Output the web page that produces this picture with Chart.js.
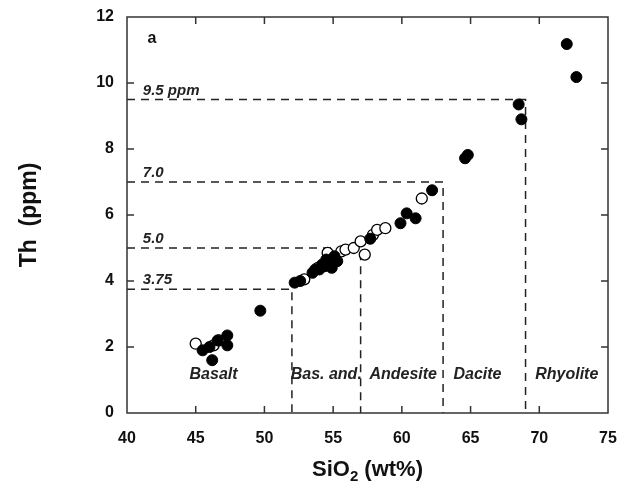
<!DOCTYPE html>
<html>
<head>
<meta charset="utf-8">
<script src="https://cdn.jsdelivr.net/npm/chart.js@4.4.1/dist/chart.umd.min.js"></script>
<style>
  html, body { margin: 0; padding: 0; background: #fff; }
  #wrap { width: 624px; height: 486px; }
</style>
</head>
<body>
<div id="wrap"><canvas id="c" width="624" height="486"></canvas></div>
<script>
// SiO2 (wt%) vs Th (ppm), filled and open symbols
const filledSi = [45.5, 46.0, 46.2, 46.6, 47.3, 47.3, 49.7, 52.2, 52.6, 53.5, 53.7, 54.0, 54.2, 54.4, 54.5, 54.8, 55.1, 54.9, 55.3, 57.7, 59.9, 60.35, 61.0, 62.2, 64.6, 64.8, 68.5, 68.7, 72.0, 72.7];
const filledTh = [1.9, 2.0, 1.6, 2.2, 2.35, 2.05, 3.1, 3.95, 4.0, 4.25, 4.35, 4.35, 4.5, 4.45, 4.65, 4.6, 4.75, 4.4, 4.6, 5.28, 5.75, 6.05, 5.9, 6.75, 7.72, 7.82, 9.35, 8.9, 11.18, 10.18];
const openSi = [45.0, 46.3, 46.7, 52.9, 53.9, 54.6, 55.6, 55.9, 56.5, 57.0, 57.3, 57.9, 58.2, 58.8, 61.45];
const openTh = [2.1, 2.05, 2.2, 4.05, 4.4, 4.85, 4.9, 4.95, 5.0, 5.2, 4.8, 5.4, 5.55, 5.6, 6.5];

// Th thresholds and matching SiO2 boundaries (dashed guides)
const thLevels = [3.75, 5.0, 7.0, 9.5];
const siBounds = [52, 57, 63, 69];
const levelLabels = ['3.75', '5.0', '7.0', '9.5 ppm'];

// rock field names along the bottom
const rockNames = ['Basalt', 'Bas. and.', 'Andesite', 'Dacite', 'Rhyolite'];
const rockSi = [46.3, 54.5, 60.1, 65.5, 72.0];
const rockTh = 1.15;

const xTicks = [40, 45, 50, 55, 60, 65, 70, 75];
const yTicks = [0, 2, 4, 6, 8, 10, 12];

const FONT = '"Liberation Sans", Arial, sans-serif';
const INK = '#111';

const pts = (xs, ys) => xs.map((x, i) => ({ x, y: ys[i] }));

const guideSets = thLevels.map((lv, i) => ({
  type: 'line',
  data: [{ x: 40, y: lv }, { x: siBounds[i], y: lv }, { x: siBounds[i], y: 0 }],
  borderColor: '#222',
  borderWidth: 1.5,
  borderDash: [8, 6],
  pointRadius: 0,
  fill: false,
  tension: 0,
  order: 5,
}));

const frame = {
  id: 'frame',
  afterDraw(chart) {
    const { ctx, chartArea: a, scales: { x, y } } = chart;
    ctx.save();
    ctx.strokeStyle = '#333';
    ctx.lineWidth = 1.5;
    ctx.strokeRect(a.left, a.top, a.right - a.left, a.bottom - a.top);

    // inside ticks on all four sides
    const len = 7;
    ctx.beginPath();
    xTicks.slice(1, -1).forEach(v => {
      const px = x.getPixelForValue(v);
      ctx.moveTo(px, a.bottom); ctx.lineTo(px, a.bottom - len);
      ctx.moveTo(px, a.top); ctx.lineTo(px, a.top + len);
    });
    yTicks.slice(1, -1).forEach(v => {
      const py = y.getPixelForValue(v);
      ctx.moveTo(a.left, py); ctx.lineTo(a.left + len, py);
      ctx.moveTo(a.right, py); ctx.lineTo(a.right - len, py);
    });
    ctx.stroke();

    // threshold labels
    ctx.fillStyle = '#222';
    ctx.font = 'italic bold 15px ' + FONT;
    ctx.textAlign = 'left';
    ctx.textBaseline = 'alphabetic';
    thLevels.forEach((lv, i) => {
      ctx.fillText(levelLabels[i], x.getPixelForValue(41.15), y.getPixelForValue(lv) - 5);
    });

    // rock names
    ctx.font = 'italic bold 16px ' + FONT;
    ctx.textAlign = 'center';
    ctx.textBaseline = 'middle';
    rockNames.forEach((n, i) => {
      ctx.fillText(n, x.getPixelForValue(rockSi[i]), y.getPixelForValue(rockTh));
    });

    // panel letter
    ctx.font = 'bold 16px ' + FONT;
    ctx.fillStyle = INK;
    ctx.textAlign = 'left';
    ctx.fillText('a', x.getPixelForValue(41.5), y.getPixelForValue(11.35));

    // x title with subscript
    ctx.font = 'bold 22px ' + FONT;
    ctx.textBaseline = 'alphabetic';
    const p1 = 'SiO', p3 = ' (wt%)';
    const w1 = ctx.measureText(p1).width, w3 = ctx.measureText(p3).width;
    ctx.font = 'bold 15px ' + FONT;
    const w2 = ctx.measureText('2').width;
    const sx = (a.left + a.right) / 2 - (w1 + w2 + w3) / 2;
    const by = 476;
    ctx.font = 'bold 22px ' + FONT;
    ctx.fillText(p1, sx, by);
    ctx.font = 'bold 15px ' + FONT;
    ctx.fillText('2', sx + w1, by + 5);
    ctx.font = 'bold 22px ' + FONT;
    ctx.fillText(p3, sx + w1 + w2, by);

    // y title
    ctx.save();
    ctx.translate(30, 215);
    ctx.rotate(-Math.PI / 2);
    ctx.textAlign = 'center';
    ctx.textBaseline = 'middle';
    ctx.font = 'bold 23px ' + FONT;
    ctx.fillText('Th  (ppm)', 0, 0);
    ctx.restore();

    ctx.restore();
  }
};

new Chart(document.getElementById('c'), {
  type: 'scatter',
  data: {
    datasets: [
      {
        label: 'filled',
        data: pts(filledSi, filledTh),
        backgroundColor: '#000',
        borderColor: '#000',
        borderWidth: 1,
        pointRadius: 5.5,
        order: 1,
      },
      {
        label: 'open',
        data: pts(openSi, openTh),
        backgroundColor: '#fff',
        borderColor: '#000',
        borderWidth: 1.3,
        pointRadius: 5.5,
        order: 2,
      },
      ...guideSets,
    ],
  },
  options: {
    responsive: false,
    animation: false,
    events: [],
    layout: { padding: { top: 17, right: 16, left: 0, bottom: 0 } },
    plugins: { legend: { display: false }, tooltip: { enabled: false } },
    scales: {
      x: {
        type: 'linear',
        min: 40, max: 75,
        afterBuildTicks: s => { s.ticks = xTicks.map(v => ({ value: v })); },
        afterFit: s => { s.height = 73; s.paddingLeft = 0; s.paddingRight = 0; },
        grid: { display: false, drawTicks: false },
        border: { display: false },
        ticks: { padding: 16, color: INK, font: { family: FONT, size: 16, weight: 'bold' } },
      },
      y: {
        type: 'linear',
        min: 0, max: 12,
        afterBuildTicks: s => { s.ticks = yTicks.map(v => ({ value: v })); },
        afterFit: s => { s.width = 127; s.paddingTop = 0; s.paddingBottom = 0; },
        grid: { display: false, drawTicks: false },
        border: { display: false },
        ticks: { padding: 13, color: INK, font: { family: FONT, size: 16, weight: 'bold' } },
      },
    },
  },
  plugins: [frame],
});
</script>
</body>
</html>
